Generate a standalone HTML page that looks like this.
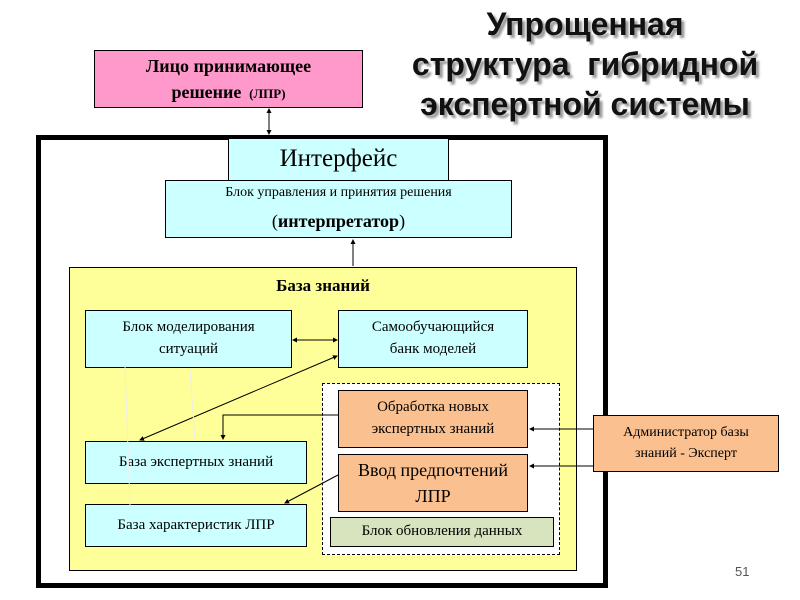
<!DOCTYPE html>
<html><head><meta charset="utf-8"><style>
body{margin:0;width:800px;height:600px;background:#fff;position:relative;overflow:hidden;font-family:"Liberation Serif","DejaVu Serif",serif}
.b{position:absolute;box-sizing:border-box;border:1px solid #000;display:flex;align-items:center;justify-content:center;text-align:center;line-height:1.45}
.cy{background:#ccffff}
.t{position:absolute;left:375px;width:420px;text-align:center;font-family:"Liberation Sans","DejaVu Sans",sans-serif;font-weight:bold;font-size:32px;line-height:40px;color:#111;text-shadow:3px 3px 2px #999}
</style></head><body>
<div class="t" style="top:4px">Упрощенная<br>структура&nbsp; гибридной<br>экспертной системы</div>
<div class="b" style="left:94px;top:50px;width:269px;height:58px;background:#ff99cc;font-weight:bold;font-size:18px"><div>Лицо принимающее<br>решение <span style="font-size:13px">&nbsp;(ЛПР)</span></div></div>
<div style="position:absolute;left:36px;top:135px;width:572px;height:453px;box-sizing:border-box;border:5px solid #000"></div>
<div class="b cy" style="left:228px;top:138px;width:221px;height:43px;font-size:25px">Интерфейс</div>
<div class="b cy" style="left:165px;top:180px;width:347px;height:58px;font-size:14px;line-height:1.75"><div>Блок управления и принятия решения<br><span style="font-size:18px">(<b>интерпретатор</b>)</span></div></div>
<div style="position:absolute;left:69px;top:267px;width:508px;height:304px;box-sizing:border-box;border:1px solid #000;background:#ffff99"></div>
<div style="position:absolute;left:69px;top:276px;width:508px;text-align:center;font-weight:bold;font-size:17px">База знаний</div>
<div class="b cy" style="left:85px;top:310px;width:207px;height:58px;font-size:15px"><div>Блок моделирования<br>ситуаций</div></div>
<div class="b cy" style="left:338px;top:310px;width:190px;height:58px;font-size:15px"><div>Самообучающийся<br>банк моделей</div></div>
<div style="position:absolute;left:322px;top:383px;width:238px;height:172px;box-sizing:border-box;border:1px dashed #000;background:#fff"></div>
<div class="b" style="left:338px;top:390px;width:190px;height:58px;background:#fac090;font-size:15px"><div>Обработка новых<br>экспертных знаний</div></div>
<div class="b" style="left:338px;top:454px;width:190px;height:58px;background:#fac090;font-size:18px"><div>Ввод предпочтений<br>ЛПР</div></div>
<div class="b" style="left:330px;top:517px;width:224px;height:30px;background:#d7e4bd;font-size:15px">Блок обновления данных</div>
<div class="b cy" style="left:85px;top:441px;width:222px;height:43px;font-size:15px">База экспертных знаний</div>
<div class="b cy" style="left:85px;top:504px;width:222px;height:43px;font-size:15px">База характеристик ЛПР</div>
<div class="b" style="left:593px;top:415px;width:186px;height:57px;background:#fac090;font-size:14px"><div>Администратор базы<br>знаний - Эксперт</div></div>
<div style="position:absolute;left:735px;top:564px;font-family:'Liberation Sans',sans-serif;font-size:13px;color:#555">51</div>
<svg style="position:absolute;left:0;top:0" width="800" height="600">
<defs><marker id="a" markerWidth="5" markerHeight="5" refX="4" refY="2.5" orient="auto-start-reverse" markerUnits="userSpaceOnUse"><path d="M0,0L5,2.5L0,5z" fill="#000"/></marker></defs>
<g stroke="#000" stroke-width="1" fill="none">
<line x1="269" y1="109" x2="269" y2="134" marker-start="url(#a)" marker-end="url(#a)"/>
<line x1="353" y1="266" x2="353" y2="240" marker-end="url(#a)"/>
<line x1="293" y1="340" x2="337" y2="340" marker-start="url(#a)" marker-end="url(#a)"/>
<line x1="337" y1="356" x2="140" y2="440" marker-start="url(#a)" marker-end="url(#a)"/>
<polyline points="338,415 223,415 223,439" marker-end="url(#a)"/>
<line x1="338" y1="475" x2="285" y2="503" marker-end="url(#a)"/>
<line x1="593" y1="429" x2="530" y2="429" marker-end="url(#a)"/>
<line x1="593" y1="466" x2="530" y2="466" marker-end="url(#a)"/>
</g>
<g stroke="#eee" stroke-width="1"><line x1="130" y1="505" x2="125" y2="365"/><line x1="195" y1="440" x2="190" y2="370"/></g>
</svg>
</body></html>
